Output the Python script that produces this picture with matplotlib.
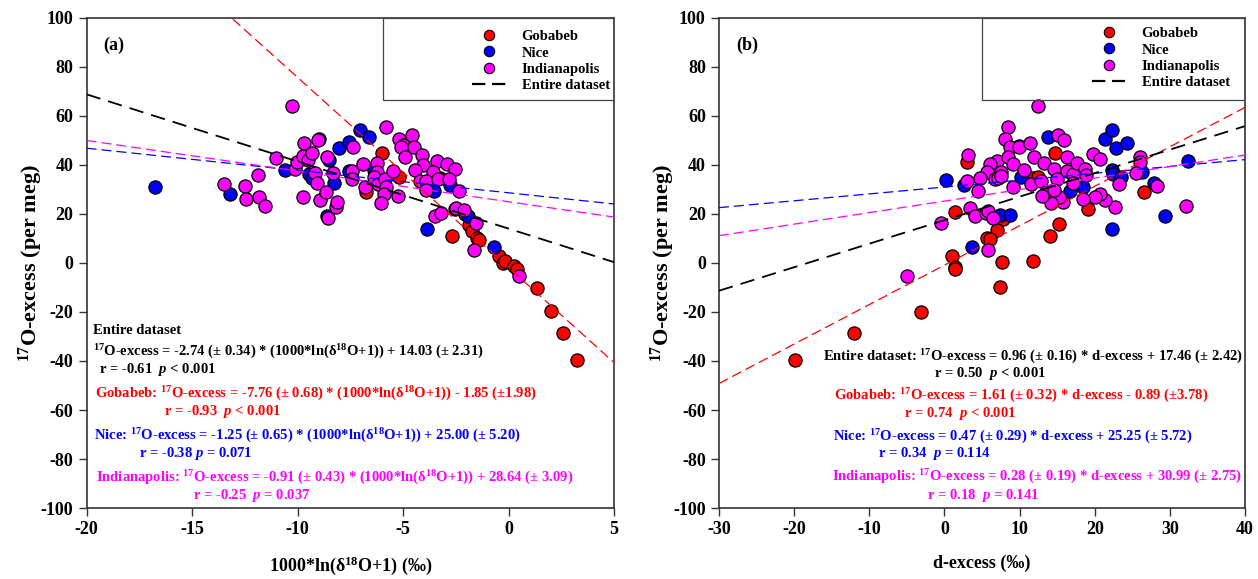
import matplotlib
matplotlib.use("Agg")
import matplotlib.pyplot as plt
from matplotlib.lines import Line2D
from matplotlib.patches import Rectangle
import numpy as np

plt.rcParams["font.family"] = ["Liberation Serif", "DejaVu Serif"]
plt.rcParams["font.weight"] = "bold"
plt.rcParams["axes.unicode_minus"] = False
plt.rcParams["mathtext.fontset"] = "custom"
plt.rcParams["mathtext.rm"] = "Liberation Serif:bold"
plt.rcParams["mathtext.bf"] = "Liberation Serif:bold"
plt.rcParams["mathtext.it"] = "Liberation Serif:italic:bold"

C_GOB, C_NICE, C_IND = "#ff0000", "#0000ff", "#ff00ff"

# ---- panel (a): 17O-excess vs 1000*ln(d18O+1) ----
gob_a_x = [-5.98, -6.77, -5.19, -3.25, -2.68, -2.54, -2.06, -1.86, -1.74, -1.51, -1.38,
           -0.44, -0.28, -0.15, 0.26, 0.42, 1.35, 2.01, 2.57, 3.23]
gob_a_y = [45.0, 28.9, 35.0, 34.6, 11.2, 22.0, 20.0, 15.5, 13.1, 10.1, 9.4,
           2.9, 0.1, 0.9, -1.2, -2.4, -10.1, -19.7, -28.7, -39.6]
nice_a_x = [-16.75, -13.2, -10.61, -9.00, -9.47, -9.30, -8.62, -8.52, -8.26, -8.05, -7.54,
            -7.04, -6.63, -7.54, -6.36, -3.53, -2.77, -3.86, -1.90, -0.67]
nice_a_y = [31.2, 28.0, 38.0, 50.6, 36.3, 34.6, 19.2, 42.0, 32.5, 47.1, 49.3,
            54.3, 51.3, 37.6, 38.0, 29.5, 31.7, 14.0, 19.3, 6.7]
ind_a_x = [-10.25, -13.47, -12.49, -12.46, -11.86, -11.82, -11.53, -11.02, -10.13, -10.01,
           -9.76, -9.69, -9.50, -9.30, -9.04, -9.19, -9.06, -9.72, -8.93, -8.66, -8.55,
           -8.62, -8.30, -8.18, -8.11, -7.38, -7.43, -7.43, -6.88, -6.82, -6.25, -6.22,
           -6.36, -6.17, -5.87, -5.82, -5.89, -6.06, -5.49, -5.22, -5.81, -5.18, -4.99,
           -5.11, -4.57, -4.49, -4.91, -4.08, -4.07, -4.45, -3.40, -2.90, -2.55, -3.56,
           -4.19, -3.91, -3.33, -2.81, -2.35, -3.91, -3.48, -3.21, -2.48, -2.11, -1.56,
           -1.62, 0.48]
ind_a_y = [64.2, 32.2, 31.4, 26.0, 35.8, 27.1, 23.4, 42.7, 38.2, 41.3,
           43.7, 48.9, 42.0, 44.8, 50.2, 36.6, 32.5, 26.8, 25.7, 29.1, 18.2,
           43.4, 36.9, 23.0, 25.0, 47.5, 37.6, 34.2, 40.4, 30.9, 40.7, 37.3,
           35.0, 32.2, 34.2, 31.2, 28.2, 24.4, 37.6, 27.3, 55.4, 50.6, 48.2,
           47.5, 52.2, 47.5, 43.3, 44.0, 40.0, 38.0, 41.8, 40.3, 38.2, 37.0,
           33.6, 33.3, 34.4, 34.3, 29.5, 29.8, 19.2, 20.5, 22.3, 21.6, 16.2,
           5.2, -5.3]

# ---- panel (b): 17O-excess vs d-excess ----
gob_b_x = [1.47, 1.07, 1.38, 1.42, -3.14, -12.05, -19.89, 2.94, 7.81, 7.01, 5.73, 6.13,
           7.67, 11.80, 7.41, 14.68, 11.76, 12.46, 19.16, 15.21, 14.02, 26.56]
gob_b_y = [20.9, 2.9, -1.5, -2.6, -19.9, -28.7, -39.6, 41.4, 17.8, 13.5, 10.1, 9.7,
           0.3, 0.8, -9.9, 45.0, 34.6, 35.0, 21.9, 15.8, 11.2, 28.9]
nice_b_x = [0.15, 9.94, 13.75, 2.67, 10.25, 22.35, 22.44, 23.46, 21.33, 22.30, 22.79,
            24.26, 26.29, 27.85, 32.41, 29.31, 22.35, 18.49, 16.72, 7.46, 8.66, 3.73]
nice_b_y = [33.9, 47.8, 51.3, 32.0, 35.2, 38.0, 36.3, 35.0, 50.5, 54.3, 46.9,
            49.1, 37.1, 32.5, 41.8, 19.3, 13.9, 31.1, 29.5, 19.6, 19.7, 6.7]
ind_b_x = [12.42, 8.43, 8.03, 8.70, 9.89, 11.45, 15.12, 15.88, 3.15, 6.93, 6.04, 8.47,
           9.14, 11.93, 5.68, 7.50, 4.71, 3.02, 4.44, 6.70, 7.15, 7.50, 9.19, 10.60,
           11.58, 12.82, 13.26, 14.55, 15.04, 16.37, 16.32, 17.12, 17.70, 18.76, 18.90,
           19.73, 20.76, 25.98, 25.98, 25.45, 23.23, 28.24, 32.19, 22.66, 21.42, 20.67,
           20.09, 18.40, 17.12, 15.84, 15.26, 14.20, 13.58, 13.05, 14.55, 3.38, 4.04,
           5.50, 5.86, 6.48, 5.81, -0.39, -4.96]
ind_b_y = [64.2, 55.4, 50.5, 47.2, 47.2, 48.9, 52.2, 50.2, 44.1, 41.6, 40.4, 43.4,
           40.4, 43.1, 37.3, 37.3, 34.7, 33.6, 29.4, 34.2, 34.6, 35.5, 30.9, 38.0,
           32.1, 33.5, 40.9, 38.2, 34.2, 43.4, 37.6, 36.3, 40.7, 38.5, 35.9,
           44.5, 42.3, 43.1, 41.4, 36.9, 32.2, 31.4, 23.4, 23.0, 25.7, 28.2,
           26.8, 26.0, 32.5, 24.8, 26.8, 24.4, 29.1, 27.3, 29.8, 22.3, 19.2,
           20.3, 21.3, 18.5, 5.3, 16.2, -5.3]

# fitted lines (slope, intercept) as drawn in the figure
fit_a = {"gob": (-7.76, -1.85), "all": (-2.74, 14.03), "blue": (-0.91, 28.64), "mag": (-1.25, 25.00)}
fit_b = {"gob": (1.61, -0.89), "all": (0.96, 17.46), "blue": (0.28, 30.99), "mag": (0.47, 25.25)}

fig = plt.figure(figsize=(12.58, 5.79), dpi=100)
axa = fig.add_axes([0.0688, 0.1226, 0.4193, 0.8464])
axb = fig.add_axes([0.5715, 0.1226, 0.4182, 0.8464])

mk = dict(s=90, edgecolors="black", linewidths=0.9, zorder=3)

def draw(ax, xlim, xt, gob, nice, ind, fit):
    ax.scatter(gob[0], gob[1], c=C_GOB, **mk)
    ax.scatter(nice[0], nice[1], c=C_NICE, **mk)
    ax.scatter(ind[0], ind[1], c=C_IND, **mk)
    xx = np.array(xlim)
    for key, col, lw, dash in [("blue", C_NICE, 0.9, (8, 4)), ("mag", C_IND, 0.9, (8, 4)),
                               ("gob", C_GOB, 0.9, (8, 4)), ("all", "black", 1.3, (8, 4.5))]:
        m, b = fit[key]
        ax.plot(xx, m * xx + b, color=col, lw=lw, dashes=dash, zorder=4)
    ax.set_xlim(xlim); ax.set_ylim(-100, 100)
    ax.set_xticks(xt); ax.set_yticks(range(-100, 101, 20))
    ax.tick_params(direction="out", length=6, width=1, labelsize=13, color="#333333")
    for lab in ax.get_xticklabels() + ax.get_yticklabels():
        lab.set_fontweight("bold")
    for sp in ax.spines.values():
        sp.set_color("#333333"); sp.set_linewidth(1.2)
    ax.set_ylabel("$^{17}$O-excess (per meg)", fontsize=16, fontweight="bold", labelpad=-3)

draw(axa, (-20, 5), range(-20, 6, 5), (gob_a_x, gob_a_y), (nice_a_x, nice_a_y),
     (ind_a_x, ind_a_y), fit_a)
draw(axb, (-30, 40), range(-30, 41, 10), (gob_b_x, gob_b_y), (nice_b_x, nice_b_y),
     (ind_b_x, ind_b_y), fit_b)
axa.set_xlabel("1000*ln(δ$^{18}$O+1) (‰)", fontsize=13, fontweight="bold", labelpad=12)
axb.set_xlabel("d-excess (‰)", fontsize=13, fontweight="bold", labelpad=12)

axa.text(0.032, 0.945, "(a)", transform=axa.transAxes, fontsize=13, fontweight="bold", va="center")
axb.text(0.032, 0.945, "(b)", transform=axb.transAxes, fontsize=13, fontweight="bold", va="center")

# legends
handles = [Line2D([], [], ls="", marker="o", ms=7.5, mfc=C_GOB, mec="black", mew=0.8),
           Line2D([], [], ls="", marker="o", ms=7.5, mfc=C_NICE, mec="black", mew=0.8),
           Line2D([], [], ls="", marker="o", ms=7.5, mfc=C_IND, mec="black", mew=0.8),
           Line2D([], [], color="black", lw=1.6, dashes=(6, 3))]
labels = ["Gobabeb", "Nice", "Indianapolis", "Entire dataset"]
for ax, x0, y0, box0 in [(axa, 0.731, 0.975, 0.562), (axb, 0.709, 0.981, 0.50)]:
    ax.add_patch(Rectangle((box0, 0.833), 1 - box0, 0.167, transform=ax.transAxes,
                           fill=False, ec="#444444", lw=0.9, zorder=5))
    ax.legend(handles, labels, loc="upper left", bbox_to_anchor=(x0, y0), frameon=False,
              handlelength=2.3, handletextpad=1.1, labelspacing=0.2,
              borderpad=0, borderaxespad=0, prop={"weight": "bold", "size": 10.5})

fs = 10.5
def ann(items):
    for px, py, s, col in items:
        fig.text(px / 1258, 1 - py / 579, s, fontsize=fs, fontweight="bold", color=col,
                 va="center", ha="left")

ann([
    (93, 330, "Entire dataset", "black"),
    (93, 352, "$^{17}$O-excess = -2.74 (± 0.34) * (1000*ln(δ$^{18}$O+1)) + 14.03 (± 2.31)", "black"),
    (99, 369, "r = -0.61  $p$ < 0.001", "black"),
    (95, 394, "Gobabeb: $^{17}$O-excess = -7.76 (± 0.68) * (1000*ln(δ$^{18}$O+1)) - 1.85 (±1.98)", C_GOB),
    (164, 412, "r = -0.93  $p$ < 0.001", C_GOB),
    (94, 436, "Nice: $^{17}$O-excess = -1.25 (± 0.65) * (1000*ln(δ$^{18}$O+1)) + 25.00 (± 5.20)", C_NICE),
    (139, 453, "r = -0.38 $p$ = 0.071", C_NICE),
    (96, 478, "Indianapolis: $^{17}$O-excess = -0.91 (± 0.43) * (1000*ln(δ$^{18}$O+1)) + 28.64 (± 3.09)", C_IND),
    (193, 495, "r = -0.25  $p$ = 0.037", C_IND),
])
ann([
    (823, 357, "Entire dataset: $^{17}$O-excess = 0.96 (± 0.16) * d-excess + 17.46 (± 2.42)", "black"),
    (934, 374, "r = 0.50  $p$ < 0.001", "black"),
    (834, 396, "Gobabeb: $^{17}$O-excess = 1.61 (± 0.32) * d-excess - 0.89 (±3.78)", C_GOB),
    (904, 413, "r = 0.74  $p$ < 0.001", C_GOB),
    (833, 437, "Nice: $^{17}$O-excess = 0.47 (± 0.29) * d-excess + 25.25 (± 5.72)", C_NICE),
    (878, 454, "r = 0.34  $p$ = 0.114", C_NICE),
    (832, 477, "Indianapolis: $^{17}$O-excess = 0.28 (± 0.19) * d-excess + 30.99 (± 2.75)", C_IND),
    (927, 495, "r = 0.18  $p$ = 0.141", C_IND),
])

fig.savefig("out.png", dpi=100)
